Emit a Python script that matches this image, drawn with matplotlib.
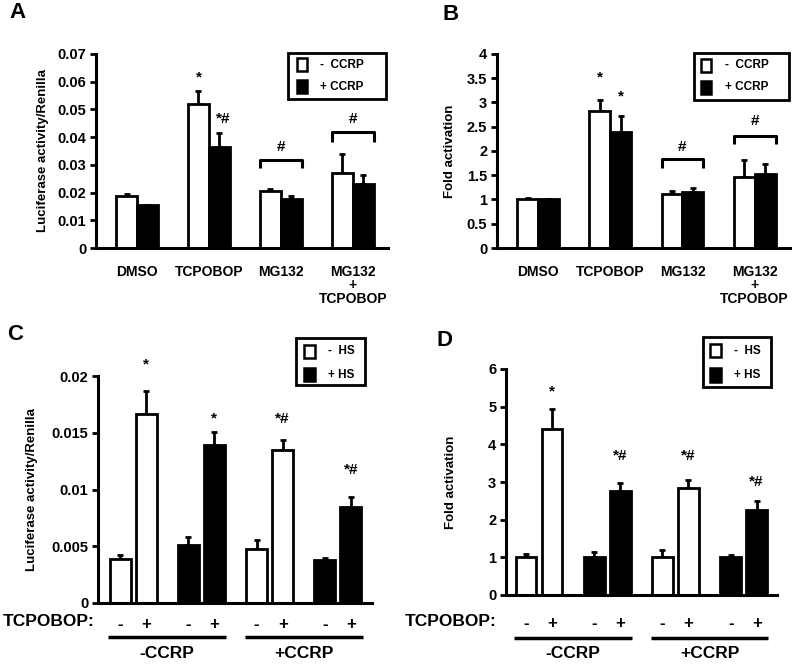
import numpy as np
import matplotlib
matplotlib.use("Agg")
import matplotlib.pyplot as plt
from matplotlib.patches import Rectangle

plt.rcParams['font.family'] = ['Liberation Sans', 'DejaVu Sans']
plt.rcParams['font.weight'] = 'bold'

W, H = 794, 664

# ---- data ----
ab_groups = ["DMSO", "TCPOBOP", "MG132", "MG132\n+\nTCPOBOP"]
a_minus = [0.0186, 0.0520, 0.0205, 0.0270]
a_minus_err = [0.0008, 0.0047, 0.0009, 0.0068]
a_plus = [0.0154, 0.0363, 0.0176, 0.0230]
a_plus_err = [0.0002, 0.0053, 0.0010, 0.0035]

b_minus = [1.00, 2.82, 1.12, 1.47]
b_minus_err = [0.04, 0.23, 0.05, 0.35]
b_plus = [1.00, 2.40, 1.15, 1.52]
b_plus_err = [0.01, 0.33, 0.08, 0.22]

cd_tcpobop = ["-", "+", "-", "+", "-", "+", "-", "+"]
cd_hs = [0, 0, 1, 1, 0, 0, 1, 1]  # 0 = -HS (white), 1 = +HS (black)
cd_ccrp = ["-CCRP", "+CCRP"]
c_vals = [0.00385, 0.01665, 0.00512, 0.01390, 0.00478, 0.01350, 0.00380, 0.00845]
c_err = [0.00040, 0.00205, 0.00068, 0.00114, 0.00079, 0.00088, 0.00018, 0.00088]
d_vals = [1.00, 4.41, 1.02, 2.75, 1.02, 2.84, 1.02, 2.26]
d_err = [0.10, 0.53, 0.13, 0.22, 0.17, 0.20, 0.05, 0.24]


def rect(x0, x1, y0, y1):
    return [x0 / W, 1 - y1 / H, (x1 - x0) / W, (y1 - y0) / H]


def style_axes(ax, ymax, ystep, fmt):
    for s in ['top', 'right']:
        ax.spines[s].set_visible(False)
    for s in ['left', 'bottom']:
        ax.spines[s].set_linewidth(2.2)
    ticks = np.arange(0, ymax + ystep / 2, ystep)
    ax.set_yticks(ticks)
    ax.set_yticklabels([fmt(t) for t in ticks])
    ax.set_ylim(0, ymax)
    ax.tick_params(axis='y', width=2, length=4, labelsize=10.5, pad=3)
    ax.tick_params(axis='x', length=0)


def bars(ax, x, vals, errs, colors, width):
    ax.errorbar(x, vals, yerr=[np.zeros(len(vals)), errs], fmt='none',
                ecolor='black', elinewidth=2, capsize=2.5, capthick=2, zorder=1)
    ax.bar(x, vals, width=width, color=colors, edgecolor='black',
           linewidth=2, zorder=2)


def fmt_num(t):
    return ('%.3f' % t).rstrip('0').rstrip('.')


def legend(fig, box, sq, tx, labels):
    # hand-drawn legend box, all in pixel coords of the reference
    x0, x1, y0, y1 = box
    fig.add_artist(Rectangle((x0 / W, 1 - y1 / H), (x1 - x0) / W, (y1 - y0) / H,
                             transform=fig.transFigure, facecolor='white',
                             edgecolor='black', lw=2))
    sx0, sx1, (wy0, wy1), (by0, by1) = sq
    for (yy0, yy1), fc in [((wy0, wy1), 'white'), ((by0, by1), 'black')]:
        fig.add_artist(Rectangle((sx0 / W, 1 - yy1 / H), (sx1 - sx0) / W,
                                 (yy1 - yy0) / H, transform=fig.transFigure,
                                 facecolor=fc, edgecolor='black', lw=1.8))
    for (yy0, yy1), lab in zip([(wy0, wy1), (by0, by1)], labels):
        fig.text(tx / W, 1 - (yy0 + yy1) / 2 / H, lab, fontsize=8.5,
                 fontweight='bold', va='center', ha='left')


fig = plt.figure(figsize=(W / 100, H / 100), dpi=100)

# ---- A and B ----
x = np.arange(4)
bw = 0.29
for label, rc, mi, mie, pl, ple, ymax, ystep, ylab, lab_xy, lg, ann in [
    ("A", rect(96, 388, 54, 248), a_minus, a_minus_err, a_plus, a_plus_err,
     0.07, 0.01, "Luciferase activity/Renilla", (9, 13),
     ((288, 386, 53, 99), (297, 307, (58, 71), (80, 93)), 320),
     dict(star1=0.0616, star2=0.0466, br=[(2, 0.0318, 0.0288, 0.0366), (3, 0.0417, 0.0384, 0.0465)])),
    ("B", rect(497, 790, 54, 248), b_minus, b_minus_err, b_plus, b_plus_err,
     4, 0.5, "Fold activation", (442, 14),
     ((694, 789, 53, 100), (701, 711, (59, 72), (81, 94)), 725),
     dict(star1=3.52, star2=3.12, br=[(2, 1.83, 1.65, 2.09), (3, 2.31, 2.15, 2.61)])),
]:
    ax = fig.add_axes(rc)
    bars(ax, x - bw / 2, mi, mie, 'white', bw)
    bars(ax, x + bw / 2, pl, ple, 'black', bw)
    style_axes(ax, ymax, ystep, fmt_num)
    ax.set_xlim(-0.57, 3.49)
    ax.set_xticks(x)
    ax.set_xticklabels(ab_groups, fontsize=10, fontweight='bold', linespacing=0.95)
    ax.tick_params(axis='x', pad=12)
    ax.set_ylabel(ylab, fontsize=9.5, fontweight='bold')
    ax.yaxis.set_label_coords(-0.162 if label == "A" else -0.141, 0.5)
    fig.text(lab_xy[0] / W, 1 - lab_xy[1] / H, label, fontsize=16,
             fontweight='bold', va='center', ha='left')
    # significance marks
    ax.text(1 - bw / 2, ann['star1'], "*", ha='center', va='center', fontsize=11)
    ax.text(1 + bw / 2 + (0.05 if label == "A" else 0), ann['star2'],
            "*#" if label == "A" else "*", ha='center', va='center', fontsize=11)
    for g, top, leg, hy in ann['br']:
        ax.plot([g - bw, g - bw, g + bw, g + bw], [leg, top, top, leg],
                color='black', lw=2.2, solid_capstyle='butt')
        ax.text(g, hy, "#", ha='center', va='center', fontsize=11)
    legend(fig, lg[0], lg[1], lg[2], ["-  CCRP", "+ CCRP"])

# ---- C and D ----
pos = np.array([0, 1, 2.62, 3.62, 5.24, 6.24, 7.86, 8.86])
cols = ['white' if h == 0 else 'black' for h in cd_hs]
for label, rc, vals, errs, ymax, ystep, ylab, lab_xy, lg, stars, xl, pm_pad, fmtf, tcx, lab_x in [
    ("C", rect(98, 372, 376, 603), c_vals, c_err, 0.02, 0.005,
     "Luciferase activity/Renilla", (7, 335),
     ((296, 365, 338, 385), (304, 315, (345, 358), (368, 381)), 328),
     [(1, 0.0210, "*"), (3, 0.0163, "*"), (5, 0.0162, "*#"), (7, 0.01173, "*#")],
     (-0.85, 9.67), 10, fmt_num, 3, -0.219),
    ("D", rect(506, 777, 369, 595), d_vals, d_err, 6, 1,
     "Fold activation", (436, 340),
     ((703, 771, 337, 387), (710, 721, (344, 357), (368, 382)), 734),
     [(1, 5.41, "*"), (3, 3.68, "*#"), (5, 3.68, "*#"), (7, 3.01, "*#")],
     (-0.77, 9.64), 15, lambda t: '%d' % t, 405, -0.181),
]:
    ax = fig.add_axes(rc)
    bars(ax, pos, vals, errs, cols, 0.8)
    style_axes(ax, ymax, ystep, fmtf)
    ax.set_xlim(*xl)
    ax.set_xticks(pos)
    ax.set_xticklabels(cd_tcpobop, fontsize=12, fontweight='bold')
    ax.tick_params(axis='x', pad=pm_pad)
    ax.set_ylabel(ylab, fontsize=9.5, fontweight='bold')
    ax.yaxis.set_label_coords(lab_x, 0.5)
    fig.text(lab_xy[0] / W, 1 - lab_xy[1] / H, label, fontsize=16,
             fontweight='bold', va='center', ha='left')
    for i, yv, s in stars:
        ax.text(pos[i], yv, s, ha='center', va='center', fontsize=11, clip_on=False)
    fig.text(tcx / W, 1 - 622 / H, "TCPOBOP:", fontsize=12.5,
             fontweight='bold', va='center', ha='left')
    tr = ax.get_xaxis_transform()
    top_px = (1 - rc[1] - rc[3]) * H
    axh = rc[3] * H
    ly = -((637 if label == "C" else 638) - top_px - axh) / axh
    ty = -(653 - top_px - axh) / axh
    for k, name in enumerate(cd_ccrp):
        a0 = pos[4 * k] - 0.45
        a1 = pos[4 * k + 3] + 0.45
        ax.plot([a0, a1], [ly, ly], color='black', lw=2.5, transform=tr,
                clip_on=False, solid_capstyle='butt')
        ax.text((a0 + a1) / 2, ty, name, transform=tr, ha='center', va='center',
                fontsize=12.5, fontweight='bold')
    legend(fig, lg[0], lg[1], lg[2], ["-  HS", "+ HS"])

fig.savefig("out.png", dpi=100)
